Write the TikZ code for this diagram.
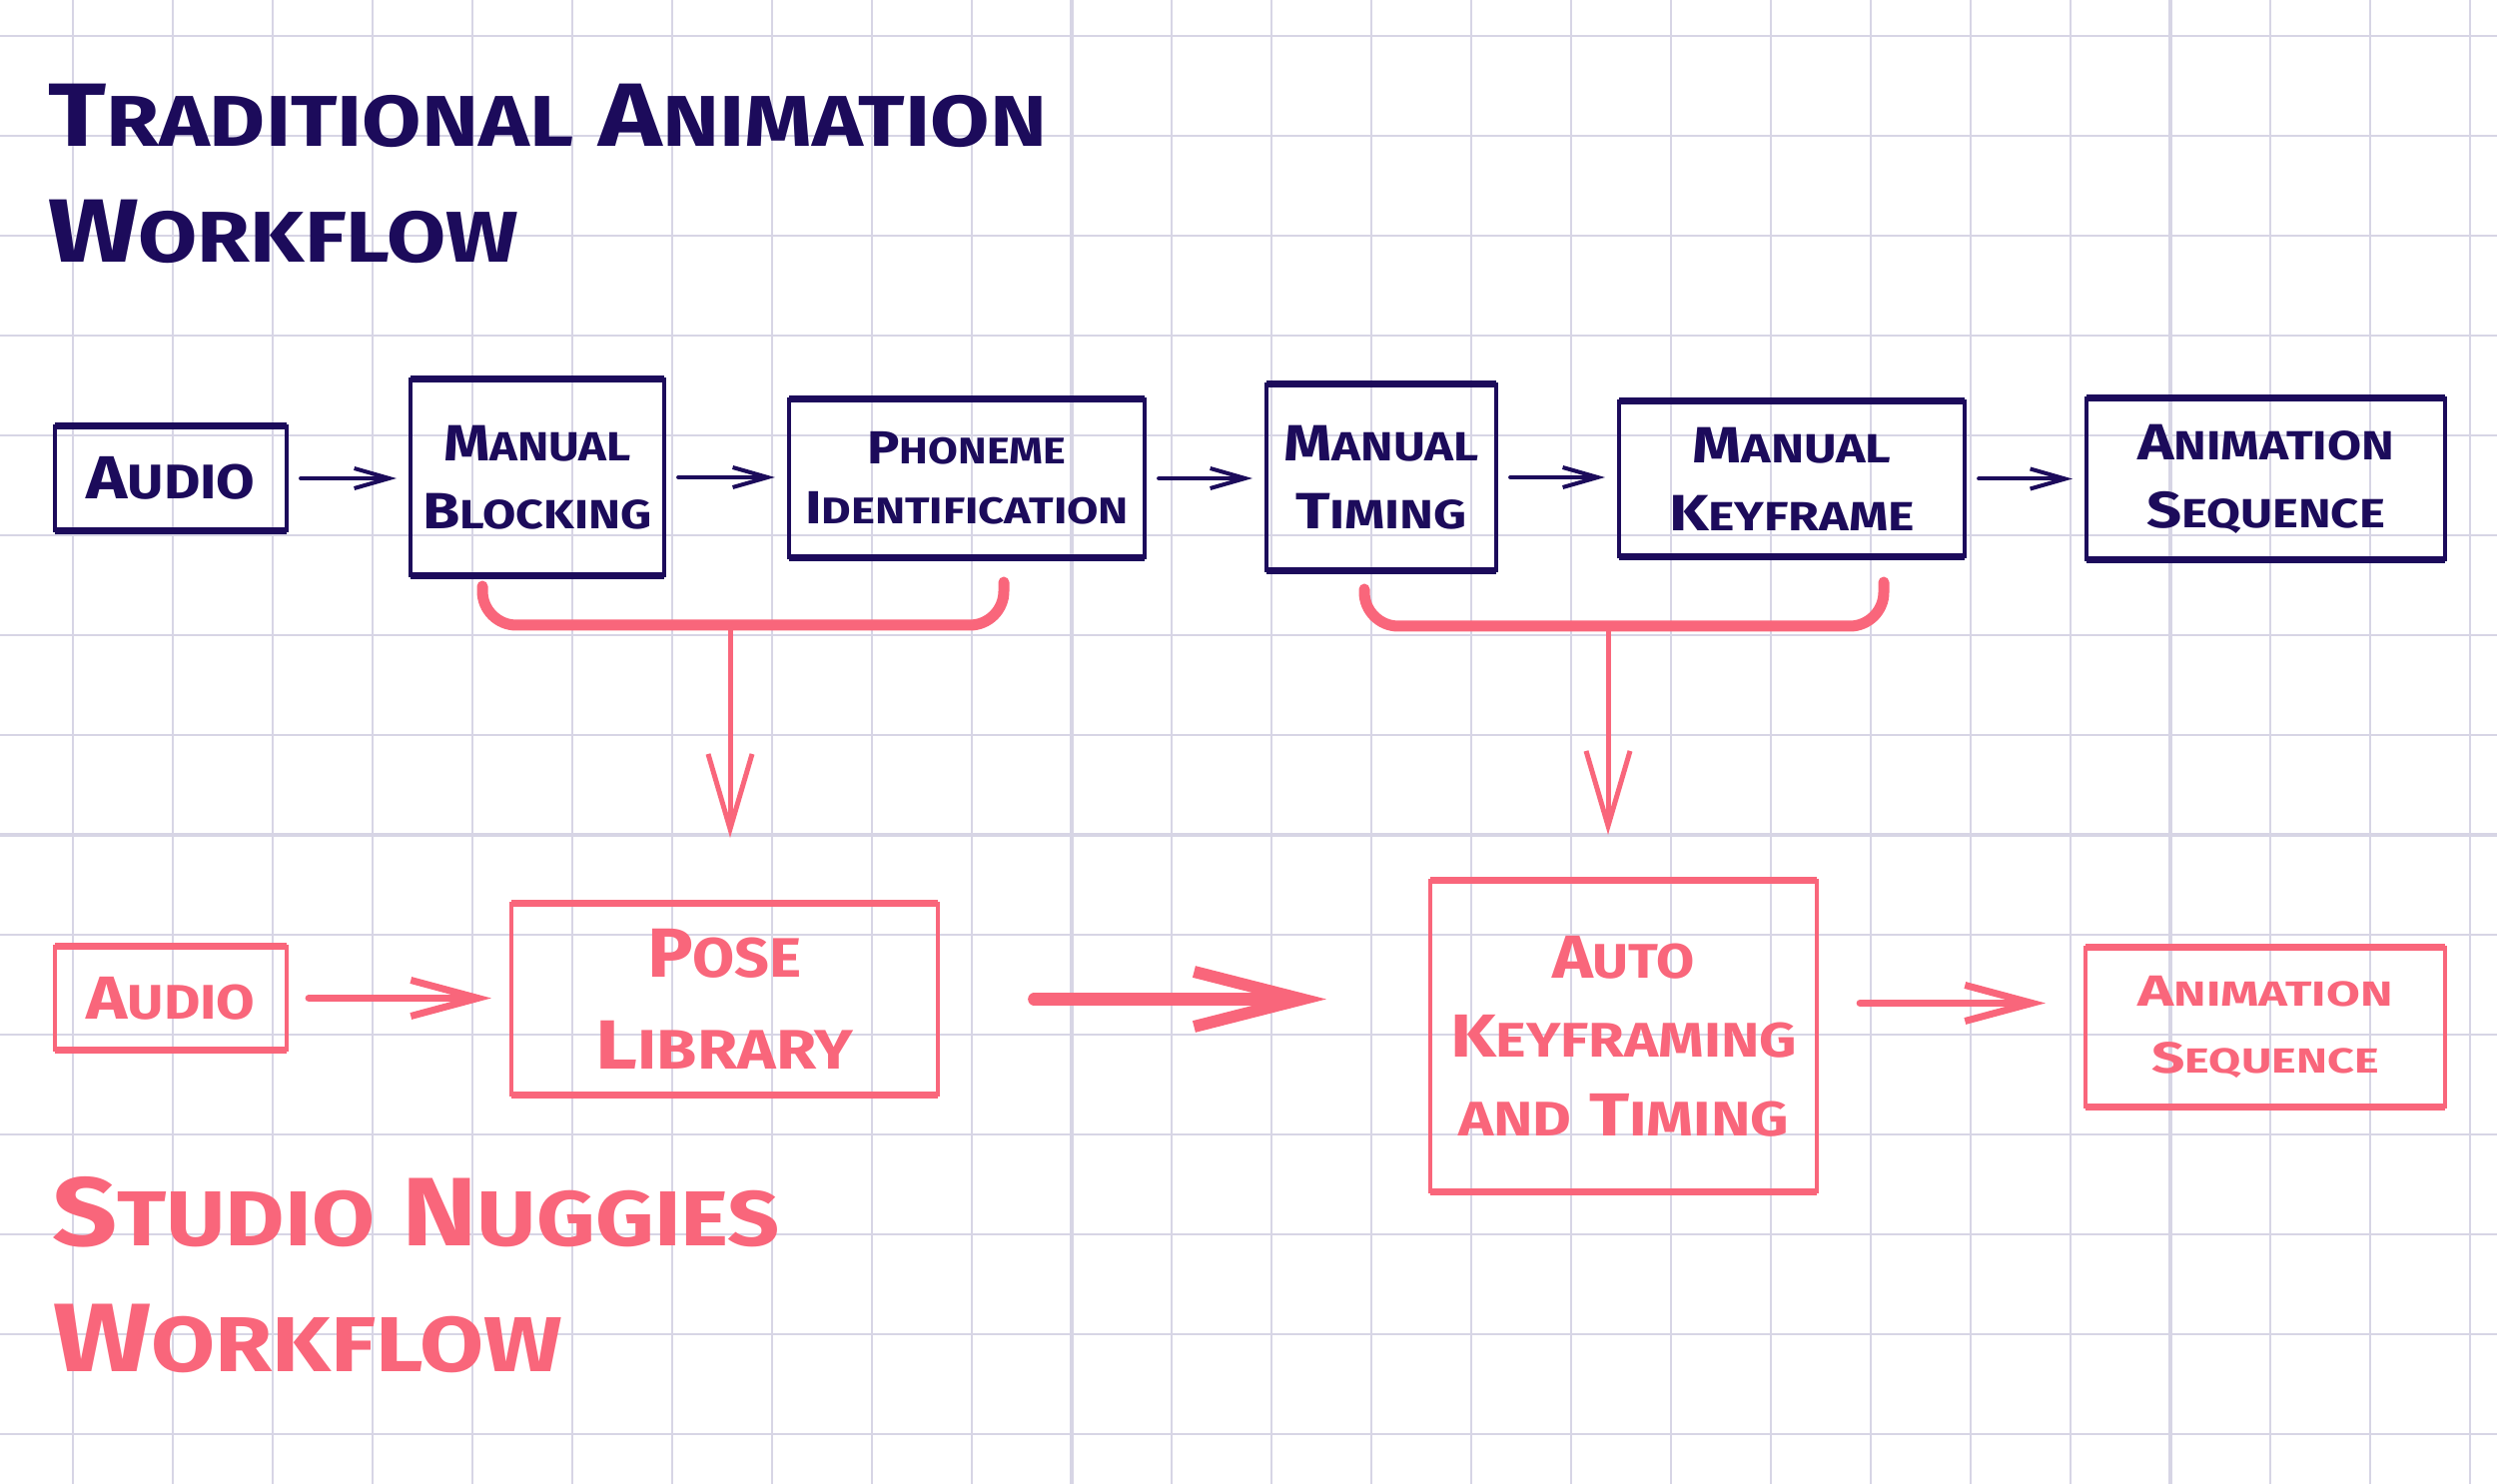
\documentclass[tikz,border=0pt]{standalone}
\usepackage{fontspec}
\setmainfont{Fira Sans}
\usepackage{graphicx}
\usetikzlibrary{arrows.meta}
\newlength{\pxu}\setlength{\pxu}{0.01cm}
\definecolor{navy}{HTML}{1C0B5B}
\definecolor{pinkc}{HTML}{F9667B}
\definecolor{gridc}{HTML}{D7D5E5}
\newcommand\smc[1]{\scalebox{0.8}{#1}}
\newcommand\fitw[2]{\resizebox{#1\pxu}{\height}{#2}}
\begin{document}
\begin{tikzpicture}[x=0.01cm,y=-0.01cm,
  gridline/.style={draw=gridc, line width=0.025cm},
  ttl/.style={anchor=base west, inner sep=0pt, outer sep=0pt},
  nbox/.style={draw=navy, text=navy, line width=0.04cm, inner sep=0pt, outer sep=0pt, align=center},
  pbox/.style={draw=pinkc, text=pinkc, line width=0.04cm, inner sep=0pt, outer sep=0pt, align=center},
  narrow/.style={draw=navy, line width=0.04cm, line cap=round, line join=round,
    -{Straight Barb[length=0.35cm, width=0.2cm]}, shorten <=0.14cm, shorten >=0.14cm},
  parrow/.style={draw=pinkc, line width=0.07cm, line cap=round, line join=round,
    -{Straight Barb[length=0.67cm, width=0.36cm]}},
  brace/.style={draw=pinkc, line width=0.11cm, line cap=round, rounded corners=0.34cm},
  pstem/.style={draw=pinkc, line width=0.05cm, line cap=round, line join=round,
    -{Straight Barb[length=0.75cm, width=0.44cm]}}
]
\fill[white] (0,0) rectangle (2500,1486);
\useasboundingbox (0,0) rectangle (2500,1486);
% grid
\foreach \i in {0,...,24} {\draw[gridline] ({73+100*\i},0) -- ({73+100*\i},1486);}
\foreach \j in {0,...,14} {\draw[gridline] (0,{36+100*\j}) -- (2500,{36+100*\j});}
\draw[gridline, line width=0.035cm] (1073,0) -- (1073,1486) (2173,0) -- (2173,1486) (0,836) -- (2500,836);

% titles
\node[ttl, text=navy, font=\bfseries\fontsize{25.6}{30}\selectfont] (t1a) at (48,147)
  {\fitw{1000}{T\smc{RADITIONAL} A\smc{NIMATION}}};
\node[ttl, text=navy, font=\bfseries\fontsize{25.6}{30}\selectfont] (t1b) at (48,263)
  {\fitw{471}{W\smc{ORKFLOW}}};
\node[ttl, text=pinkc, font=\bfseries\fontsize{27.7}{32}\selectfont] (t2a) at (52,1247)
  {\fitw{729}{S\smc{TUDIO} N\smc{UGGIES}}};
\node[ttl, text=pinkc, font=\bfseries\fontsize{27.7}{32}\selectfont] (t2b) at (53,1373)
  {\fitw{510}{W\smc{ORKFLOW}}};

% traditional row
\node[nbox, minimum width=2.32cm, minimum height=1.04cm, font=\bfseries\fontsize{17.3}{20}\selectfont] (a1) at (171,479)
  {\fitw{169}{A\smc{UDIO}}};
\node[nbox, minimum width=2.54cm, minimum height=1.96cm, font=\bfseries\fontsize{14.5}{19.3}\selectfont] (mb) at (538,478)
  {\fitw{188}{M\smc{ANUAL}}\\\fitw{229}{B\smc{LOCKING}}};
\node[nbox, minimum width=3.56cm, minimum height=1.58cm, font=\bfseries\fontsize{13.2}{17.1}\selectfont] (pi) at (968,479)
  {\fitw{199}{P\smc{HONEME}}\\\fitw{324}{I\smc{DENTIFICATION}}};
\node[nbox, minimum width=2.30cm, minimum height=1.86cm, font=\bfseries\fontsize{14.5}{19.3}\selectfont] (mt) at (1383,478)
  {\fitw{195}{M\smc{ANUAL}}\\\fitw{172}{T\smc{IMING}}};
\node[nbox, minimum width=3.46cm, minimum height=1.55cm, font=\bfseries\fontsize{14.5}{19.3}\selectfont] (mk) at (1794,479.5)
  {\fitw{199}{M\smc{ANUAL}}\\\fitw{246}{K\smc{EYFRAME}}};
\node[nbox, minimum width=3.59cm, minimum height=1.61cm, font=\bfseries\fontsize{14.5}{19.3}\selectfont] (as1) at (2268.5,479.5)
  {\fitw{257}{A\smc{NIMATION}}\\\fitw{239}{S\smc{EQUENCE}}};
\foreach \n in {a1,mb,pi,mt,mk,as1} {
  \draw[navy, line width=0.07cm] (\n.north west) -- (\n.north east) (\n.south west) -- (\n.south east);
}
\draw[narrow] (a1.east) -- (a1.east -| mb.west);
\draw[narrow] (mb.east) -- (mb.east -| pi.west);
\draw[narrow] (pi.east) -- (pi.east -| mt.west);
\draw[narrow] (mt.east) -- (mt.east -| mk.west);
\draw[narrow] (mk.east) -- (mk.east -| as1.west);

% studio nuggies row
\node[pbox, minimum width=2.32cm, minimum height=1.03cm, font=\bfseries\fontsize{17.3}{20}\selectfont] (a2) at (171,999.5)
  {\fitw{169}{A\smc{UDIO}}};
\node[pbox, minimum width=4.27cm, minimum height=1.91cm, font=\bfseries\fontsize{19.8}{26.2}\selectfont] (pose) at (725.5,1000.5)
  {\fitw{155}{P\smc{OSE}}\\\fitw{257}{L\smc{IBRARY}}};
\node[pbox, minimum width=3.87cm, minimum height=3.11cm, font=\bfseries\fontsize{17.3}{22.5}\selectfont] (auto) at (1625.5,1037.5)
  {\fitw{143}{A\smc{UTO}}\\\fitw{347}{K\smc{EYFRAMING}}\\\fitw{331}{\smc{AND} T\smc{IMING}}};
\node[pbox, minimum width=3.60cm, minimum height=1.59cm, font=\bfseries\fontsize{12.4}{19.1}\selectfont] (as2) at (2268,1028.5)
  {\fitw{255}{A\smc{NIMATION}}\\\fitw{227}{S\smc{EQUENCE}}};
\foreach \n in {a2,pose,auto,as2} {
  \draw[pinkc, line width=0.07cm] (\n.north west) -- (\n.north east) (\n.south west) -- (\n.south east);
}
\draw[parrow, shorten <=0.22cm, shorten >=0.20cm] (a2.east) -- (a2.east -| pose.west);
\draw[parrow, line width=0.12cm, -{Straight Barb[length=1.08cm, width=0.55cm]}, shorten <=0.96cm, shorten >=1.04cm]
  (pose.east) -- (pose.east -| auto.west);
\draw[parrow, shorten <=0.43cm, shorten >=0.40cm] ([yshift=0.33cm]auto.east) -- ([yshift=0.33cm]auto.east -| as2.west);

% braces
\coordinate (b1l) at (483,587);
\coordinate (b1r) at (1005,583);
\coordinate (b1m) at (731,626);
\draw[brace] (b1l) -- (b1l |- b1m) -- (b1r |- b1m) -- (b1r);
\draw[pstem, shorten >=0.66cm] (b1m) -- (b1m |- pose.north);
\coordinate (b2l) at (1366,590);
\coordinate (b2r) at (1886,583);
\coordinate (b2m) at (1610,627);
\draw[brace] (b2l) -- (b2l |- b2m) -- (b2r |- b2m) -- (b2r);
\draw[pstem, shorten >=0.46cm] (b2m) -- (b2m |- auto.north);
\end{tikzpicture}
\end{document}
